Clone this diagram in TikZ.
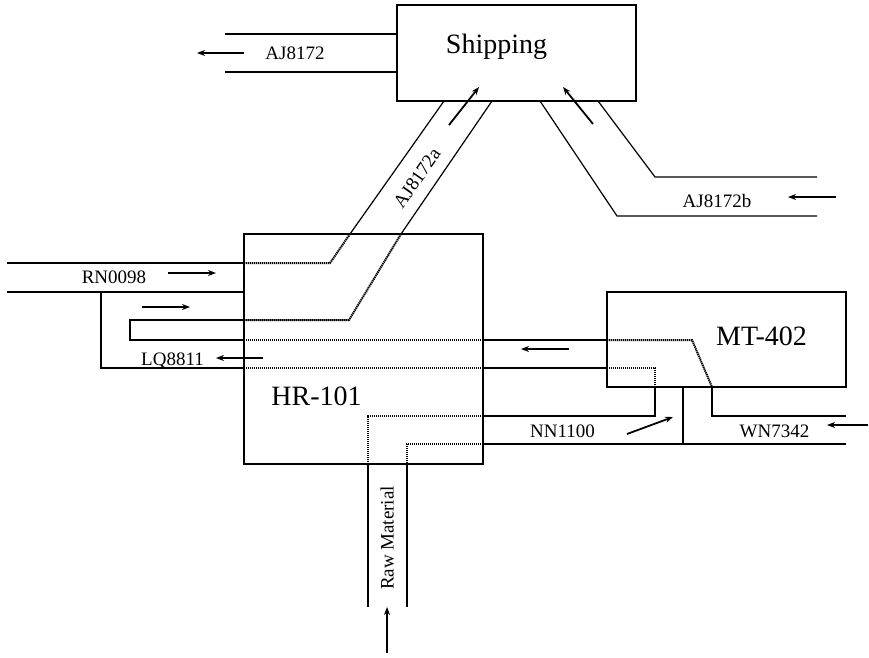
\documentclass[tikz,border=0pt]{standalone}
\usepackage{fontspec}
\setmainfont{Liberation Serif}
\usetikzlibrary{arrows.meta}
\begin{document}
\begin{tikzpicture}[x=1pt, y=-1pt,
    pipe/.style={line width=1.2pt},
    hidden/.style={line width=2pt, dash pattern=on 1.3pt off 0.7pt},
    flow/.style={line width=1.8pt, -{Stealth[length=8pt,width=6pt]}},
    unit/.style={draw, line width=1.4pt, inner sep=0pt},
    tag/.style={font=\fontsize{19}{22}\selectfont, inner sep=0pt},
    big/.style={font=\fontsize{28}{32}\selectfont, inner sep=0pt}]
    \useasboundingbox (0,0) rectangle (869,657);
    % units
    \node[unit, minimum width=239pt, minimum height=96pt] (ship) at (516.5,53) {};
    \node[unit, minimum width=239pt, minimum height=230pt] (hr) at (363.5,349) {};
    \node[unit, minimum width=239pt, minimum height=95pt] (mt) at (726.5,339.5) {};
    \node[big, anchor=base] (shiplbl) at (496.5,53) {Shipping};
    \node[big, anchor=base] (hrlbl) at (316.5,405) {HR-101};
    \node[big, anchor=base] (mtlbl) at (761.5,345) {MT-402};
    % AJ8172 out of shipping
    \draw[pipe] (225,34) -- (397,34);
    \draw[pipe] (225,72) -- (397,72);
    \node[tag, anchor=base] (aj) at (295,59) {AJ8172};
    \draw[flow] (244,53) -- (197,53);
    % AJ8172a from HR-101 to shipping
    \draw[pipe] (444,101) -- (350,234);
    \draw[hidden] (350,234) -- (330,263) -- (244,263);
    \draw[pipe] (492,101) -- (401,234);
    \draw[hidden] (401,234) -- (349,320) -- (244,320);
    \node[tag, rotate=55] (aja) at (417,178) {AJ8172a};
    \draw[flow] (449,125) -- (479,87);
    % AJ8172b into shipping
    \draw[pipe] (540,101) -- (617,216) -- (817,216);
    \draw[pipe] (598,101) -- (655,177) -- (817,177);
    \node[tag, anchor=base] (ajb) at (717,207) {AJ8172b};
    \draw[flow] (836,197) -- (788,197);
    \draw[flow] (593,124) -- (563,87);
    % RN0098 feed
    \draw[pipe] (7,263) -- (244,263);
    \draw[pipe] (7,292) -- (244,292);
    \node[tag, anchor=base] (rn) at (114,283) {RN0098};
    \draw[flow] (168,273) -- (216,273);
    \draw[flow] (142,307) -- (190,307);
    % recycle loops through MT-402
    \draw[pipe] (244,320) -- (130,320) -- (130,340) -- (244,340);
    \draw[hidden] (244,340) -- (483,340);
    \draw[pipe] (483,340) -- (607,340);
    \draw[hidden] (607,340) -- (692,340) -- (712,387);
    \draw[pipe] (712,387) -- (712,416) -- (846,416);
    \draw[pipe] (101,292) -- (101,368) -- (244,368);
    \draw[hidden] (244,368) -- (483,368);
    \draw[pipe] (483,368) -- (607,368);
    \draw[hidden] (607,368) -- (655,368) -- (655,387);
    \draw[pipe] (655,387) -- (655,416) -- (483,416);
    \draw[hidden] (483,416) -- (368,416) -- (368,464);
    \draw[pipe] (368,464) -- (368,607);
    \draw[pipe] (846,444) -- (483,444);
    \draw[hidden] (483,444) -- (407,444) -- (407,464);
    \draw[pipe] (407,464) -- (407,607);
    \draw[pipe] (683,387) -- (683,444);
    \node[tag, anchor=base] (lq) at (172.5,365) {LQ8811};
    \draw[flow] (263,358) -- (216,358);
    \draw[flow] (569,349) -- (521,349);
    \node[tag, anchor=base] (nn) at (562.5,437) {NN1100};
    \draw[flow] (627,434) -- (673,417);
    \node[tag, anchor=base] (wn) at (774.5,437) {WN7342};
    \draw[flow] (868,425) -- (827,425);
    % raw material in
    \node[tag, rotate=90] (raw) at (387,538) {Raw Material};
    \draw[flow] (387,653) -- (387,607);
\end{tikzpicture}
\end{document}
